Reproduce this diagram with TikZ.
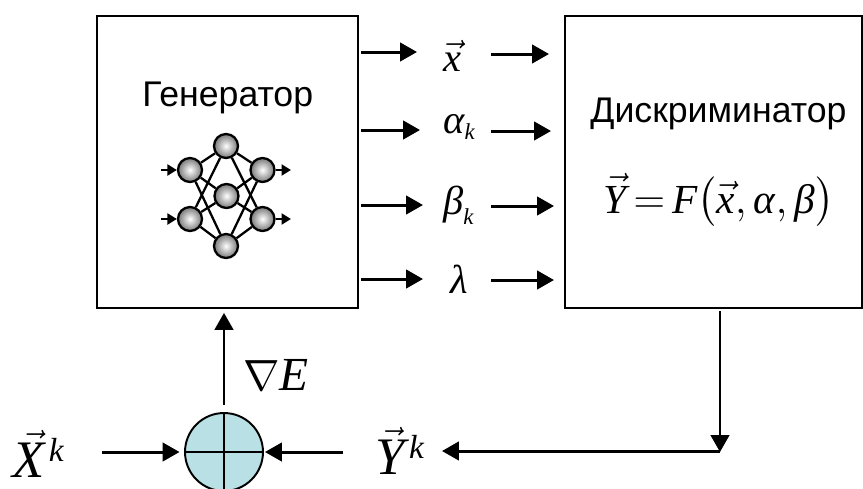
\documentclass[tikz,border=0pt]{standalone}
\usepackage{amsmath,amssymb}
\usepackage{fontspec}
\setmainfont{Liberation Sans}
\newfontfamily\termfont{Liberation Serif}
\usepackage{xcolor}
\usetikzlibrary{arrows.meta,positioning}
\definecolor{sumFill}{RGB}{185,224,228}
\definecolor{ballRim}{RGB}{120,120,120}
\newcommand{\termit}[1]{\mbox{\termfont\itshape #1}}
\newcommand{\subk}{\mbox{\fontsize{13}{13}\selectfont\termfont\itshape k}}
\newcommand{\supk}{\mbox{\kern2.5pt\fontsize{19}{19}\selectfont\termfont\itshape k}}

\begin{document}
\begin{tikzpicture}[
  x=0.02cm, y=-0.02cm,
  blockbox/.style={draw, line width=1pt, inner sep=0, minimum height=5.84cm},
  title/.style={font=\fontsize{20.3}{24}\selectfont, inner sep=0, anchor=base west},
  flow/.style={line width=1.7pt, -{Triangle[length=3.4mm, width=3.7mm]}},
  lab/.style={font=\fontsize{23}{26}\selectfont, inner sep=0, anchor=base west},
  big/.style={font=\fontsize{30}{34}\selectfont, inner sep=0, anchor=base west},
  ball/.style={circle, draw, line width=1.3pt, inner sep=0, minimum size=0.48cm, inner color=white, outer color=ballRim},
  wire/.style={line width=1.3pt},
  stub/.style={line width=1.3pt, -{Triangle[length=1.9mm, width=2.2mm]}}
]
\useasboundingbox (0,0) rectangle (863,488);

\node[blockbox, minimum width=5.22cm] (gen) at (227.5,162) {};
\node[blockbox, minimum width=5.94cm] (dis) at (713.5,162) {};
\node[title] (gentxt) at (142,106) {Генератор};
\node[title] (distxt) at (590,122) {Дискриминатор};
\node[font=\fontsize{23.5}{40}\selectfont, inner sep=0, anchor=base west] (form) at (603,213)
  {$\skew{1}\vec{\termit{Y}}\,{=}\,\termit{F}\bigl(\vec{\termit{x}},\termit{α},\termit{β}\bigr)$};

% outputs of the generator
\node[lab] (lx) at (443,71)  {$\vec{\termit{x}}$};
\node[lab] (la) at (443,133) {$\termit{α}_{\subk}$};
\node[lab] (lb) at (443,214) {$\termit{β}_{\subk}$};
\node[lab] (ll) at (450,293) {\termit{λ}};

\coordinate (x1) at (417,52);  \coordinate (x2) at (491,54);  \coordinate (x3) at (549,54);
\coordinate (a1) at (420,130); \coordinate (a2) at (491,131); \coordinate (a3) at (551,131);
\coordinate (b1) at (423,205); \coordinate (b2) at (491,206); \coordinate (b3) at (554,206);
\coordinate (l1) at (423,279); \coordinate (l2) at (491,280); \coordinate (l3) at (554,280);

\draw[flow, shorten <=0.5mm] (gen.east |- x1) -- (x1);
\draw[flow, shorten <=0.5mm] (gen.east |- a1) -- (a1);
\draw[flow, shorten <=0.5mm] (gen.east |- b1) -- (b1);
\draw[flow, shorten <=0.5mm] (gen.east |- l1) -- (l1);
\draw[flow] (x2) -- (x3);
\draw[flow] (a2) -- (a3);
\draw[flow] (b2) -- (b3);
\draw[flow] (l2) -- (l3);

% network inside the generator
\coordinate (in1)  at (161,170);
\coordinate (in2)  at (161,219);
\coordinate (out1) at (291,170);
\coordinate (out2) at (291,219);
\node[ball] (n1) at (190,170)   {};
\node[ball] (n2) at (190,219)   {};
\node[ball] (m1) at (226,146)   {};
\node[ball] (m2) at (226.5,196) {};
\node[ball] (m3) at (226,246)   {};
\node[ball] (o1) at (262.5,170) {};
\node[ball] (o2) at (262.5,219) {};

\draw[wire] (n1) -- (m1); \draw[wire] (n1) -- (m2); \draw[wire] (n1) -- (m3);
\draw[wire] (n2) -- (m1); \draw[wire] (n2) -- (m2); \draw[wire] (n2) -- (m3);
\draw[wire] (o1) -- (m1); \draw[wire] (o1) -- (m2); \draw[wire] (o1) -- (m3);
\draw[wire] (o2) -- (m1); \draw[wire] (o2) -- (m2); \draw[wire] (o2) -- (m3);
\draw[stub] (in1) -- (n1);
\draw[stub] (in2) -- (n2);
\draw[stub] (o1) -- (out1);
\draw[stub] (o2) -- (out2);

% feedback part
\node[circle, draw, line width=1.1pt, fill=sumFill, inner sep=0, minimum size=1.56cm] (sum) at (224,452) {};
\draw[line width=1pt] (sum.north) -- (sum.south);
\draw[line width=1pt] (sum.west) -- (sum.east);
\node[big, font=\fontsize{27}{32}\selectfont] (grad) at (243,390) {$\nabla\termit{E}$};
\node[big] (xk) at (12,477)  {$\skew{3.5}\vec{\termit{X}}^{\supk}$};
\node[big] (yk) at (375,474) {$\skew{1}\vec{\termit{Y}}^{\supk}$};
\coordinate (xs) at (102,452);
\coordinate (ys) at (343,452);
\coordinate (dn) at (720,311);
\coordinate (mid) at (720,452);
\coordinate (turn) at (720,451);
\coordinate (yend) at (442,451);

\draw[flow, shorten <=1.4mm, shorten >=0.8mm] (sum.north) -- (gen.south -| sum);
\draw[flow, shorten >=0.9mm] (xs) -- (sum.west);
\draw[flow, shorten >=0.2mm] (ys) -- (sum.east);
\draw[flow] (dn) -- (mid);
\draw[flow] (turn) -- (yend);
\end{tikzpicture}
\end{document}
